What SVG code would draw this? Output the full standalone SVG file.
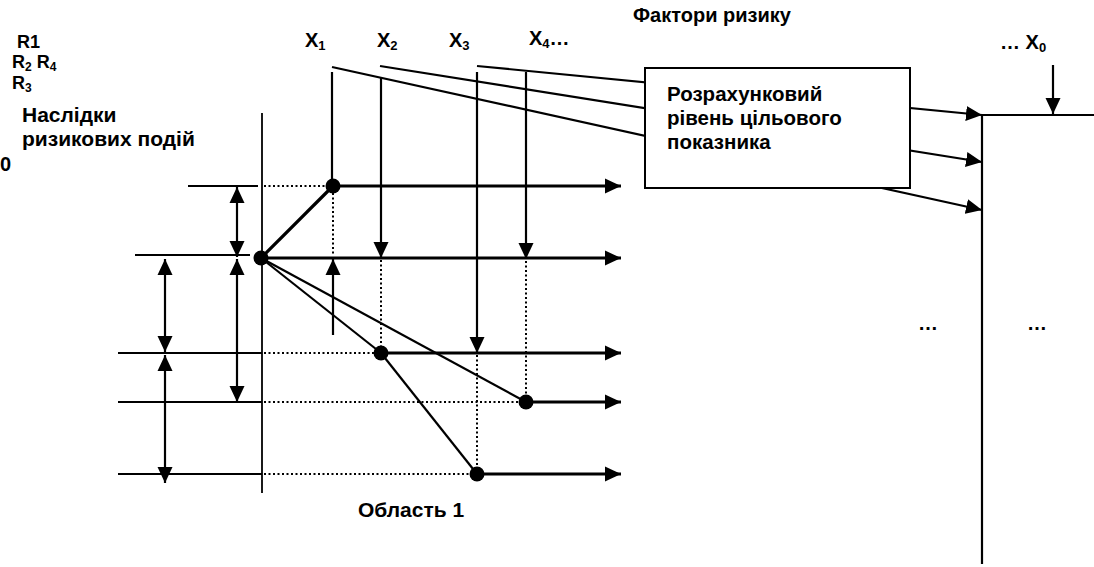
<svg xmlns="http://www.w3.org/2000/svg" width="1094" height="567" viewBox="0 0 1094 567">
<style>
text{font-family:"Liberation Sans",Arial,sans-serif;font-weight:bold;fill:#000}
.thin{stroke:#000;stroke-width:1.8;fill:none}
.med{stroke:#000;stroke-width:2.2;fill:none}
.thick{stroke:#000;stroke-width:3.2;fill:none}
.dot{stroke:#000;stroke-width:2;stroke-dasharray:2 2.5;fill:none}
.arr{marker-end:url(#ah)}
.dbl{marker-end:url(#ah);marker-start:url(#ah2)}
</style>
<defs>
<marker id="ah" markerUnits="userSpaceOnUse" markerWidth="16" markerHeight="16" refX="16" refY="8" orient="auto"><path d="M0,0.5 L16,8 L0,15.5 z" fill="#000"/></marker>
<marker id="ah2" markerUnits="userSpaceOnUse" markerWidth="16" markerHeight="16" refX="0" refY="8" orient="auto"><path d="M16,0.5 L0,8 L16,15.5 z" fill="#000"/></marker>
</defs>
<rect width="1094" height="567" fill="#fff"/>
<g id="labels">
<text x="17" y="48" font-size="18">R1</text>
<text x="12" y="68" font-size="18">R<tspan font-size="12" dy="3">2</tspan><tspan dy="-3"> R</tspan><tspan font-size="12" dy="3">4</tspan></text>
<text x="12" y="89" font-size="18">R<tspan font-size="12" dy="3">3</tspan></text>
<text x="22" y="122" font-size="21">Наслідки</text>
<text x="22" y="146" font-size="21">ризикових подій</text>
<text x="0" y="171" font-size="20">0</text>
<text x="633" y="22" font-size="20">Фактори ризику</text>
<text x="305" y="47" font-size="20">X<tspan font-size="13" dy="3">1</tspan></text>
<text x="377" y="47" font-size="20">X<tspan font-size="13" dy="3">2</tspan></text>
<text x="449" y="47" font-size="20">X<tspan font-size="13" dy="3">3</tspan></text>
<text x="529" y="45" font-size="20">X<tspan font-size="13" dy="3">4</tspan><tspan dy="-3">…</tspan></text>
<text x="1000" y="49" font-size="20">… X<tspan font-size="13" dy="3">0</tspan></text>
<text x="918" y="330" font-size="20">…</text>
<text x="1027" y="330" font-size="20">…</text>
<text x="358" y="517" font-size="21">Область 1</text>
</g>
<g id="connectors">
<line class="med arr" x1="332" y1="67" x2="982" y2="210"/>
<line class="med arr" x1="380" y1="66" x2="982" y2="162"/>
<line class="med arr" x1="477" y1="66" x2="982" y2="115"/>
<line class="thin" x1="188" y1="186" x2="258" y2="186"/>
<line class="thin" x1="135" y1="255" x2="250" y2="255"/>
<line class="thin" x1="118" y1="353" x2="262" y2="353"/>
<line class="thin" x1="118" y1="402" x2="262" y2="402"/>
<line class="thin" x1="118" y1="474" x2="262" y2="474"/>
<line class="thin" x1="262" y1="113" x2="262" y2="493"/>
<line class="dot" x1="264" y1="186" x2="326" y2="186"/>
<line class="dot" x1="264" y1="353" x2="374" y2="353"/>
<line class="dot" x1="264" y1="402" x2="519" y2="402"/>
<line class="dot" x1="264" y1="474" x2="470" y2="474"/>
<line class="dot" x1="333" y1="193" x2="333" y2="256"/>
<line class="dot" x1="381" y1="260" x2="381" y2="346"/>
<line class="dot" x1="477" y1="355" x2="477" y2="467"/>
<line class="dot" x1="526" y1="261" x2="526" y2="395"/>
<line class="thick arr" x1="333" y1="186" x2="621" y2="186"/>
<line class="thick arr" x1="261" y1="258" x2="621" y2="258"/>
<line class="thick arr" x1="381" y1="353" x2="621" y2="353"/>
<line class="thick arr" x1="526" y1="402" x2="621" y2="402"/>
<line class="thick arr" x1="477" y1="474" x2="621" y2="474"/>
<line class="thick" x1="261" y1="258" x2="333" y2="186"/>
<line class="med" x1="261" y1="258" x2="381" y2="353"/>
<line class="med" x1="261" y1="258" x2="526" y2="402"/>
<line class="med" x1="381" y1="353" x2="477" y2="474"/>
<line class="med dbl" x1="237" y1="187" x2="237" y2="257"/>
<line class="med dbl" x1="237" y1="259" x2="237" y2="402"/>
<line class="med dbl" x1="165" y1="259" x2="165" y2="352"/>
<line class="med dbl" x1="165" y1="355" x2="165" y2="483"/>
<line class="med arr" x1="333" y1="335" x2="333" y2="259"/>
<line class="med" x1="332" y1="72" x2="332" y2="186"/>
<line class="med arr" x1="381" y1="77" x2="381" y2="258"/>
<line class="med arr" x1="477" y1="72" x2="477" y2="353"/>
<line class="med arr" x1="526" y1="72" x2="526" y2="259"/>
<line class="med" x1="982" y1="115" x2="982" y2="564"/>
<line class="med" x1="982" y1="115" x2="1094" y2="115"/>
<line class="med arr" x1="1053" y1="65" x2="1053" y2="114"/>
</g>
<g id="points">
<circle cx="261" cy="258" r="7.5"/>
<circle cx="333" cy="186" r="7.5"/>
<circle cx="381" cy="353" r="7.5"/>
<circle cx="526" cy="402" r="7.5"/>
<circle cx="477" cy="474" r="7.5"/>
</g>
<g id="box">
<rect x="645" y="68" width="265" height="120" fill="#fff" stroke="#000" stroke-width="2"/>
<text x="667" y="101" font-size="20.5">Розрахунковий</text>
<text x="667" y="125" font-size="20.5">рівень цільового</text>
<text x="667" y="149" font-size="20.5">показника</text>
</g>
</svg>
